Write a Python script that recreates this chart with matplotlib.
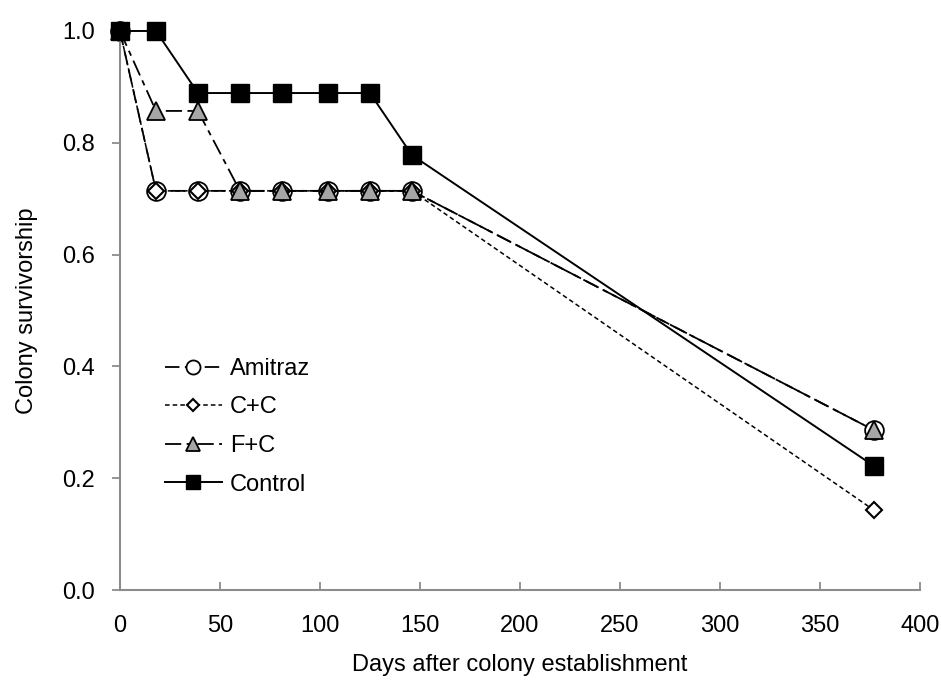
import matplotlib
matplotlib.use('Agg')
import matplotlib.pyplot as plt

plt.rcParams['font.family'] = ['Liberation Sans', 'DejaVu Sans']

# days after establishment for each census
days = [0, 18, 39, 60, 81, 104, 125, 146, 377]

amitraz = [1.0, 0.714, 0.714, 0.714, 0.714, 0.714, 0.714, 0.714, 0.286]
cc = [1.0, 0.714, 0.714, 0.714, 0.714, 0.714, 0.714, 0.714, 0.143]
fc = [1.0, 0.857, 0.857, 0.714, 0.714, 0.714, 0.714, 0.714, 0.286]
control = [1.0, 1.0, 0.889, 0.889, 0.889, 0.889, 0.889, 0.778, 0.222]

xticks = [0, 50, 100, 150, 200, 250, 300, 350, 400]
yticks = [0.0, 0.2, 0.4, 0.6, 0.8, 1.0]

fs = 17

fig = plt.figure(figsize=(9.41, 6.81), dpi=100)
ax = fig.add_axes([0.1275, 0.1336, 0.85, 0.8209])

ax.plot(days, amitraz, color='black', lw=1.3, ls=(0, (8, 3)),
        marker='o', ms=13.5, mfc='white', mec='black', mew=1.3,
        label='Amitraz', clip_on=False, zorder=2)
ax.plot(days, cc, color='black', lw=1.1, ls=(0, (3, 2)),
        marker='D', ms=8.5, mfc='white', mec='black', mew=1.5,
        label='C+C', clip_on=False, zorder=3)
ax.plot(days, fc, color='black', lw=1.3, ls=(0, (9, 3, 3, 3)),
        marker='^', ms=13, mfc='#a6a6a6', mec='black', mew=1.3,
        label='F+C', clip_on=False, zorder=4)
ax.plot(days, control, color='black', lw=1.4, ls='-',
        marker='s', ms=13.5, mfc='black', mec='black',
        label='Control', clip_on=False, zorder=5)

ax.set_xlim(0, 400)
ax.set_ylim(0, 1.0)
ax.set_xticks(xticks)
ax.set_yticks(yticks)
ax.set_yticklabels(['%.1f' % v for v in yticks])

for s in ['top', 'right']:
    ax.spines[s].set_visible(False)
for s in ['left', 'bottom']:
    ax.spines[s].set_color('#8c8c8c')
    ax.spines[s].set_linewidth(1.5)

ax.tick_params(axis='x', direction='in', length=6, width=1.3, color='#8c8c8c',
               labelsize=fs, pad=18)
ax.tick_params(axis='y', direction='out', length=6, width=1.3, color='#8c8c8c',
               labelsize=fs, pad=12)

ax.set_xlabel('Days after colony establishment', fontsize=fs, labelpad=12)
ax.set_ylabel('Colony survivorship', fontsize=fs, labelpad=17)

ax.legend(loc='upper left', bbox_to_anchor=(0.0445, 0.432), frameon=False,
          fontsize=fs, handlelength=2.4, handletextpad=0.35, labelspacing=0.7,
          markerscale=0.75, borderaxespad=0)

fig.savefig('out.png', dpi=100)
